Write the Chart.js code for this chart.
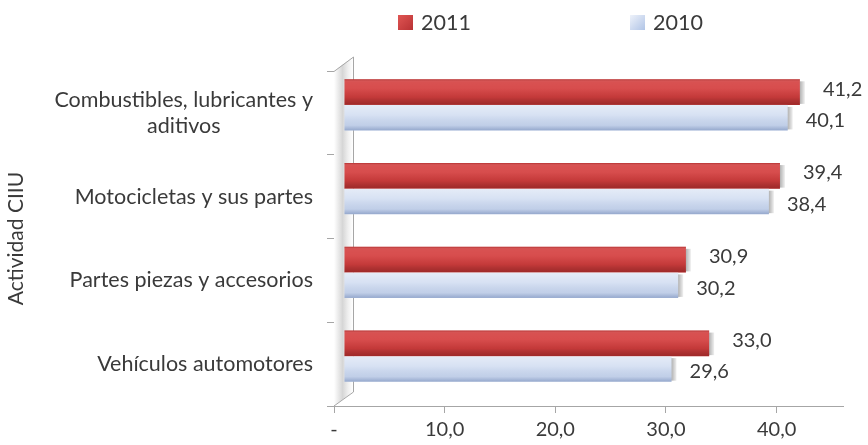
<!DOCTYPE html>
<html>
<head>
<meta charset="utf-8">
<script src="https://cdn.jsdelivr.net/npm/chart.js@4/dist/chart.umd.min.js"></script>
<style>
  html, body { margin: 0; padding: 0; background: #fff; }
  #grafico { display: block; }
</style>
</head>
<body>
<canvas id="grafico" width="868" height="445"></canvas>
<script>
// datos
const categorias  = [['Combustibles, lubricantes y', 'aditivos'], 'Motocicletas y sus partes', 'Partes piezas y accesorios', 'Vehículos automotores'];
const series      = ['2011', '2010'];
const valores2011 = [41.2, 39.4, 30.9, 33.0];
const valores2010 = [40.1, 38.4, 30.2, 29.6];
const ticksX      = [0, 10, 20, 30, 40];
const tituloEjeY  = 'Actividad CIIU';

const FUENTE = 'Lato, "Open Sans", sans-serif';
const GRIS_TEXTO = '#3a3a3a';
const GRIS_EJE = '#a6a6a6';
const PROF = { x: 10, y: -8 };   // desplazamiento "3D" de las barras

const fmt = v => v === 0 ? '-' : v.toFixed(1).replace('.', ',');

// sombreado vertical de cada serie (posición relativa, color)
const sombras = [
  [[0, 'rgba(120,20,20,0.35)'], [0.1, 'rgba(255,255,255,0.10)'], [0.35, 'rgba(255,255,255,0.08)'], [0.7, 'rgba(0,0,0,0.08)'], [1, 'rgba(60,0,0,0.35)']],
  [[0, 'rgba(255,255,255,0.45)'], [0.4, 'rgba(255,255,255,0.15)'], [0.8, 'rgba(60,90,150,0.10)'], [1, 'rgba(60,90,150,0.40)']]
];

// pared lateral 3D + desplazamiento de barras
const pared3d = {
  id: 'pared3d',
  beforeDatasetsDraw(chart) {
    const { ctx, chartArea: a } = chart;
    const L = a.left, T = a.top, B = a.bottom;
    ctx.save();
    const g = ctx.createLinearGradient(L, 0, L + 19, 0);
    g.addColorStop(0, '#ffffff');
    g.addColorStop(0.45, '#d6d6d6');
    g.addColorStop(0.75, '#f0f0f0');
    g.addColorStop(1, '#ffffff');
    ctx.fillStyle = g;
    ctx.beginPath();
    ctx.moveTo(L, T); ctx.lineTo(L + 19, T - 14); ctx.lineTo(L + 19, B - 14); ctx.lineTo(L, B);
    ctx.closePath();
    ctx.fill();
    ctx.strokeStyle = GRIS_EJE;
    ctx.lineWidth = 1;
    ctx.beginPath();
    ctx.moveTo(L, T + 0.5); ctx.lineTo(L + 19.5, T - 14);
    ctx.lineTo(L + 19.5, B - 14);
    ctx.moveTo(L, B); ctx.lineTo(L + 19.5, B - 14);
    ctx.stroke();
    ctx.restore();
    ctx.save();
    ctx.translate(PROF.x, PROF.y);
  },
  afterDatasetsDraw(chart) {
    const ctx = chart.ctx;
    // sombreado de cada barra (sigue desplazado)
    chart.data.datasets.forEach((ds, i) => {
      chart.getDatasetMeta(i).data.forEach(el => {
        const { x, y, base, height } = el.getProps(['x', 'y', 'base', 'height'], true);
        const top = y - height / 2;
        const g = ctx.createLinearGradient(0, top, 0, top + height);
        sombras[i].forEach(([p, c]) => g.addColorStop(p, c));
        ctx.fillStyle = g;
        ctx.fillRect(base, top, x - base, height);
        // cara lateral derecha
        const c = ctx.createLinearGradient(x, 0, x + 5, 0);
        c.addColorStop(0, 'rgba(0,0,0,0.30)');
        c.addColorStop(1, 'rgba(0,0,0,0.06)');
        ctx.fillStyle = c;
        ctx.fillRect(x, top + 2, 5, height - 3);
      });
    });
    ctx.restore();

    // etiquetas de valor
    const desp = [{ dx: 33, dy: -11 }, { dx: 28, dy: -5 }];
    ctx.save();
    ctx.font = '20px ' + FUENTE;
    ctx.fillStyle = GRIS_TEXTO;
    ctx.textAlign = 'left';
    ctx.textBaseline = 'middle';
    chart.data.datasets.forEach((ds, i) => {
      chart.getDatasetMeta(i).data.forEach((el, j) => {
        ctx.fillText(fmt(ds.data[j]), el.x + desp[i].dx, el.y + desp[i].dy);
      });
    });
    ctx.restore();
  }
};

// etiquetas de categoría (bloque alineado a la derecha, líneas centradas)
const etiquetasY = {
  id: 'etiquetasY',
  afterDraw(chart) {
    const { ctx } = chart;
    const y = chart.scales.y;
    const derecha = y.right - 21;
    ctx.save();
    ctx.font = '21.5px ' + FUENTE;
    ctx.fillStyle = GRIS_TEXTO;
    ctx.textAlign = 'center';
    ctx.textBaseline = 'middle';
    categorias.forEach((cat, i) => {
      const lineas = Array.isArray(cat) ? cat : [cat];
      const ancho = Math.max(...lineas.map(l => ctx.measureText(l).width));
      const cx = derecha - ancho / 2;
      const cy = y.getPixelForValue(i);
      lineas.forEach((l, k) => {
        ctx.fillText(l, cx, cy + (k - (lineas.length - 1) / 2) * 26);
      });
    });
    ctx.restore();
  }
};

// leyenda arriba
const leyenda = {
  id: 'leyenda',
  afterDraw(chart) {
    const { ctx } = chart;
    const posX = [398, 630];
    const colores = [['#e05553', '#b83234'], ['#eef2fa', '#b0c4e6']];
    ctx.save();
    ctx.font = '21.5px ' + FUENTE;
    ctx.textBaseline = 'middle';
    ctx.textAlign = 'left';
    chart.data.datasets.forEach((ds, i) => {
      const x = posX[i], y = 15;
      const g = ctx.createLinearGradient(x, y, x + 15, y + 15);
      g.addColorStop(0, colores[i][0]);
      g.addColorStop(1, colores[i][1]);
      ctx.fillStyle = g;
      ctx.fillRect(x, y, 15, 15);
      ctx.fillStyle = GRIS_TEXTO;
      ctx.fillText(ds.label, x + 23, y + 8);
    });
    ctx.restore();
  }
};

new Chart(document.getElementById('grafico'), {
  type: 'bar',
  data: {
    labels: categorias,
    datasets: [
      { label: series[0], data: valores2011, backgroundColor: '#d43e3e' },
      { label: series[1], data: valores2010, backgroundColor: '#d0dcf1' }
    ]
  },
  options: {
    indexAxis: 'y',
    responsive: false,
    animation: false,
    devicePixelRatio: 1,
    categoryPercentage: 0.61,
    barPercentage: 1,
    layout: { padding: { top: 71, right: 25, bottom: 0, left: 0 } },
    plugins: { legend: { display: false }, tooltip: { enabled: false } },
    scales: {
      x: {
        type: 'linear',
        min: 0,
        max: 46,
        afterBuildTicks: s => { s.ticks = ticksX.map(v => ({ value: v })); },
        afterFit: s => { s.height = 39; },
        ticks: {
          callback: v => fmt(v),
          font: { family: FUENTE, size: 20 },
          color: GRIS_TEXTO,
          padding: 5,
          maxRotation: 0
        },
        grid: { drawOnChartArea: false, tickLength: 7, color: GRIS_EJE },
        border: { color: GRIS_EJE }
      },
      y: {
        type: 'category',
        afterFit: s => { s.width = 334; },
        ticks: { display: false },
        grid: { drawOnChartArea: false, tickLength: 7, color: GRIS_EJE, offset: true },
        border: { color: GRIS_EJE },
        title: {
          display: true,
          text: tituloEjeY,
          font: { family: FUENTE, size: 21 },
          color: GRIS_TEXTO,
          padding: { top: 4, bottom: 0 }
        }
      }
    }
  },
  plugins: [pared3d, etiquetasY, leyenda]
});
</script>
</body>
</html>
